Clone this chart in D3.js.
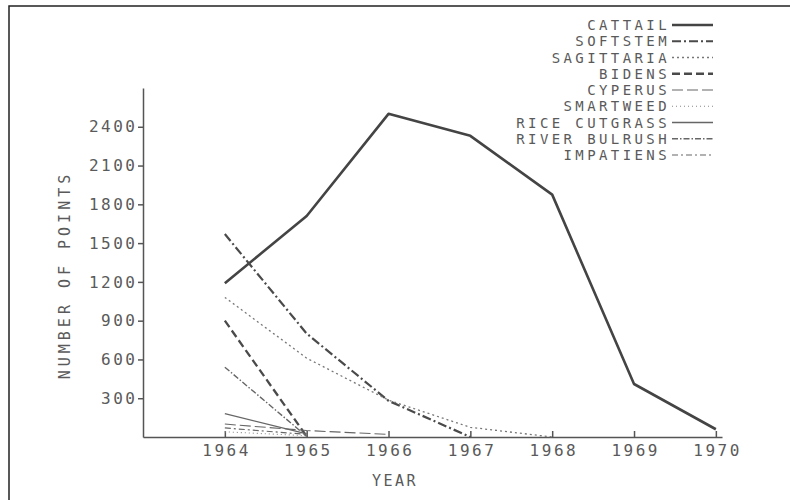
<!DOCTYPE html>
<html>
<head>
<meta charset="utf-8">
<script src="https://cdn.jsdelivr.net/npm/d3@7.8.5/dist/d3.min.js"></script>
<style>
  body { margin: 0; background: #fff; }
  svg { display: block; }
  text { font-family: "DejaVu Sans Mono", monospace; fill: #5a5a5a; }
  .axis path, .axis line { stroke: #555; stroke-width: 1.5px; }
  .axis text { font-size: 16px; letter-spacing: 2.5px; fill: #5a5a5a; }
</style>
</head>
<body>
<script>
    // Данные
    const years = [1964, 1965, 1966, 1967, 1968, 1969, 1970];
    const yTicks = [300, 600, 900, 1200, 1500, 1800, 2100, 2400];

    const cattail      = [1190, 1710, 2500, 2330, 1875, 410, 60];
    const softstem     = [1570, 800, 280, 0, null, null, null];
    const sagittaria   = [1080, 610, 285, 75, 0, null, null];
    const bidens       = [900, 5, null, null, null, null, null];
    const cyperus      = [100, 50, 20, null, null, null, null];
    const smartweed    = [40, 10, null, null, null, null, null];
    const riceCutgrass = [180, 25, null, null, null, null, null];
    const riverBulrush = [540, 5, null, null, null, null, null];
    const impatiens    = [70, 20, null, null, null, null, null];

    const names = ['CATTAIL', 'SOFTSTEM', 'SAGITTARIA', 'BIDENS', 'CYPERUS',
                   'SMARTWEED', 'RICE CUTGRASS', 'RIVER BULRUSH', 'IMPATIENS'];
    const values = [cattail, softstem, sagittaria, bidens, cyperus,
                    smartweed, riceCutgrass, riverBulrush, impatiens];

    // Стили линий
    const styles = [
        { w: 2.6, dash: null,        c: '#444' },
        { w: 2.2, dash: '9,3,2,3',   c: '#4a4a4a' },
        { w: 1.3, dash: '2,3',       c: '#777' },
        { w: 2.3, dash: '8,4',       c: '#4a4a4a' },
        { w: 1.1, dash: '11,4',      c: '#666' },
        { w: 1.1, dash: '1,3',       c: '#888' },
        { w: 1.3, dash: null,        c: '#666' },
        { w: 1.4, dash: '6,2,1.5,2', c: '#666' },
        { w: 1.2, dash: '6,3,2,3',   c: '#666' }
    ];

    const width = 790, height = 500;
    const mLeft = 143, mRight = 722, mTop = 88, mBottom = 437;

    const svg = d3.select('body').append('svg')
        .attr('width', width)
        .attr('height', height);

    // Рамка
    svg.append('path')
        .attr('d', `M9,${height} L9,6 L${width},6`)
        .attr('fill', 'none')
        .attr('stroke', '#222')
        .attr('stroke-width', 1.5);

    const x = d3.scaleLinear().domain([1963, 1970.075]).range([mLeft, mRight]);
    const y = d3.scaleLinear().domain([0, 2700]).range([mBottom, mTop]);

    // Оси
    const xAxis = svg.append('g')
        .attr('class', 'axis')
        .attr('transform', `translate(0,${mBottom})`)
        .call(d3.axisBottom(x)
            .tickValues(years)
            .tickFormat(d3.format('d'))
            .tickSizeInner(-6)
            .tickSizeOuter(0)
            .tickPadding(8));
    xAxis.selectAll('text').attr('dx', '1.2px');

    const yAxis = svg.append('g')
        .attr('class', 'axis')
        .attr('transform', `translate(${mLeft},0)`)
        .call(d3.axisLeft(y)
            .tickValues(yTicks)
            .tickFormat(d3.format('d'))
            .tickSizeInner(5)
            .tickSizeOuter(0)
            .tickPadding(3));
    yAxis.selectAll('text').attr('dx', '2.5px');

    // Подписи осей
    svg.append('text')
        .attr('transform', 'translate(70,275) rotate(-90)')
        .attr('text-anchor', 'middle')
        .style('font-size', '15px')
        .style('letter-spacing', '4px')
        .text('NUMBER OF POINTS');

    svg.append('text')
        .attr('x', 395)
        .attr('y', 486)
        .attr('text-anchor', 'middle')
        .style('font-size', '15px')
        .style('letter-spacing', '2.5px')
        .text('YEAR');

    // Линии
    const line = d3.line()
        .defined(d => d[1] !== null)
        .x(d => x(d[0]))
        .y(d => y(d[1]));

    values.forEach((vals, i) => {
        const pts = years.map((yr, j) => [yr, vals[j]]);
        svg.append('path')
            .datum(pts)
            .attr('fill', 'none')
            .attr('stroke', styles[i].c)
            .attr('stroke-width', styles[i].w)
            .attr('stroke-dasharray', styles[i].dash)
            .attr('stroke-linejoin', 'round')
            .attr('d', line);
    });

    // Легенда
    const legend = svg.append('g').attr('class', 'legend');
    names.forEach((name, i) => {
        const ly = 25 + i * 16.25;
        legend.append('text')
            .attr('x', 670)
            .attr('y', ly + 5)
            .attr('text-anchor', 'end')
            .style('font-size', '14px')
            .style('letter-spacing', '3.4px')
            .text(name);
        legend.append('line')
            .attr('x1', 672)
            .attr('x2', 713)
            .attr('y1', ly)
            .attr('y2', ly)
            .attr('stroke', styles[i].c)
            .attr('stroke-width', styles[i].w)
            .attr('stroke-dasharray', styles[i].dash);
    });
</script>
</body>
</html>
